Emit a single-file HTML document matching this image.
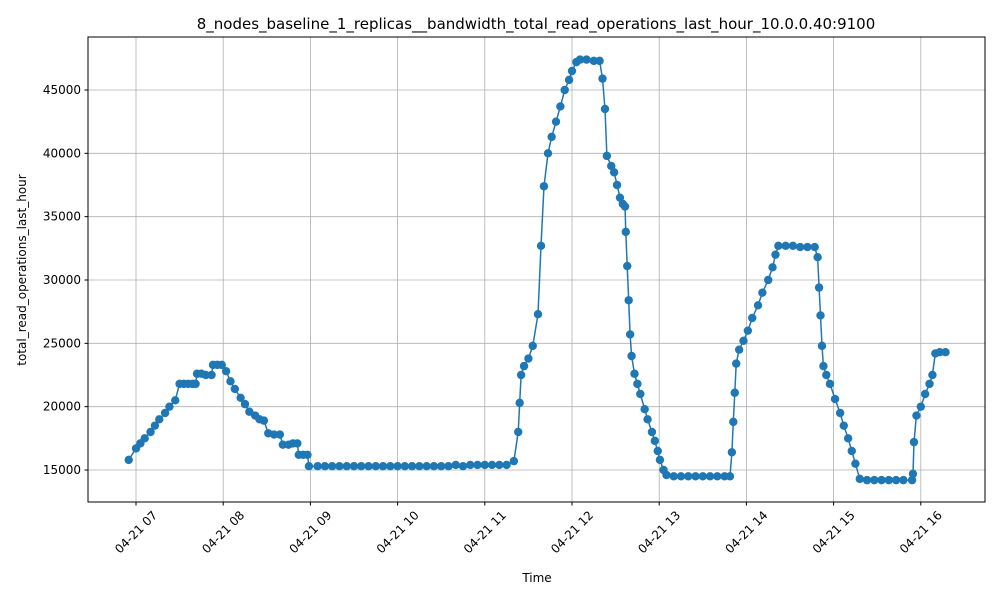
<!DOCTYPE html>
<html><head><meta charset="utf-8"><style>
body{margin:0;background:#fff;}
svg{font-family:"DejaVu Sans","Liberation Sans",sans-serif;}
</style></head><body>
<svg id="chart" width="1000" height="600" xmlns="http://www.w3.org/2000/svg">
<rect x="0" y="0" width="1000" height="600" fill="#fff"/>
<text x="536" y="29" text-anchor="middle" font-size="15" fill="#000">8_nodes_baseline_1_replicas__bandwidth_total_read_operations_last_hour_10.0.0.40:9100</text>
<g id="grid"></g>
<g id="series"></g>
<rect x="88" y="37" width="897" height="465" fill="none" stroke="#000" stroke-width="1"/>
<g id="axes"></g>
<text x="537" y="582" text-anchor="middle" font-size="12">Time</text>
<text transform="translate(26,270) rotate(-90)" text-anchor="middle" font-size="12">total_read_operations_last_hour</text>
</svg>
<script>
// minutes after 07:00
const times = [
-5,0,3,6,10,13,16,20,23,27,
30,33,36,39,41,42,45,48,52,53,
56,59,62,65,68,72,75,78,82,85,
88,91,95,99,101,105,108,111,112,115,
118,119,125,130,135,140,145,150,155,160,
165,170,175,180,185,190,195,200,205,210,
215,220,225,230,235,240,245,250,255,260,
263,264,265,267,270,273,276.6,278.7,280.7,283.5,
286,289,292,295,298,300,303,305.5,310,315,
319,321,322.7,324,327,329,331,333,335,336.5,
337,338,339,340,341,343,345,347,350,352,
355,357,359,360.5,363,365,370,375,380,385,
390,395,400,405,408.7,410,411,412,413,415,
418,421,424,428,431,435,438,440,442,447,
452,457,462,467,469,470,471,472,473,475,
477.5,481,484.5,487,490,492.5,495,498,503,508,
513,518,523,528,534,534.6,535.3,537,540,543,
546,548,550,553,557];
const values = [
15800,16700,17100,17500,18000,18500,19000,19500,20000,20500,
21800,21800,21800,21800,21800,22600,22600,22500,22500,23300,
23300,23300,22800,22000,21400,20700,20200,19600,19300,19000,
18900,17900,17800,17800,17000,17000,17100,17100,16200,16200,
16200,15300,15300,15300,15300,15300,15300,15300,15300,15300,
15300,15300,15300,15300,15300,15300,15300,15300,15300,15300,
15300,15400,15300,15400,15400,15400,15400,15400,15400,15700,
18000,20300,22500,23200,23800,24800,27300,32700,37400,40000,
41300,42500,43700,45000,45800,46500,47200,47400,47400,47300,
47300,45900,43500,39800,39000,38500,37500,36500,36000,35800,
33800,31100,28400,25700,24000,22600,21800,21000,19800,19000,
18000,17300,16500,15800,15000,14600,14500,14500,14500,14500,
14500,14500,14500,14500,14500,16400,18800,21100,23400,24500,
25200,26000,27000,28000,29000,30000,31000,32000,32700,32700,
32700,32600,32600,32600,31800,29400,27200,24800,23200,22500,
21800,20600,19500,18500,17500,16500,15500,14300,14200,14200,
14200,14200,14200,14200,14200,14700,17200,19300,20000,21000,
21800,22500,24200,24300,24300];
const yTicks = [15000,20000,25000,30000,35000,40000,45000];
const xTickHours = [7,8,9,10,11,12,13,14,15,16];

const NS='http://www.w3.org/2000/svg';
function xHour(h){return 136+(h-7)*87.2;}
function xMin(m){return xHour(7+m/60);}
function yVal(v){return 470-(v-15000)*0.0126667;}
function mk(tag,attrs,parent){const e=document.createElementNS(NS,tag);for(const k in attrs)e.setAttribute(k,attrs[k]);parent.appendChild(e);return e;}
const grid=document.getElementById('grid'),axes=document.getElementById('axes'),series=document.getElementById('series');
yTicks.forEach(v=>{const y=yVal(v);
 const g=mk('line',{x1:88,x2:985,y1:y,y2:y,stroke:'#b0b0b0','stroke-width':0.8},grid);
 
 
 mk('line',{x1:84.5,x2:88,y1:y,y2:y,stroke:'#000'},axes);
 const t=mk('text',{x:81,y:y+4,'text-anchor':'end','font-size':12},axes);t.textContent=v;
 
 
});
xTickHours.forEach(h=>{const x=xHour(h);
 const g=mk('line',{x1:x,x2:x,y1:37,y2:502,stroke:'#b0b0b0','stroke-width':0.8},grid);
 
 
 mk('line',{x1:x,x2:x,y1:502,y2:505.5,stroke:'#000'},axes);
 const ax=x+22, ay=516;
 const t=mk('text',{x:ax,y:ay,'text-anchor':'end','font-size':12,transform:`rotate(-45 ${ax} ${ay})`},axes);
 t.textContent='04-21 '+String(h).padStart(2,'0');
 
 
});
const pts=times.map((m,i)=>xMin(m).toFixed(1)+','+yVal(values[i]).toFixed(1)).join(' ');
const line=mk('polyline',{points:pts,fill:'none',stroke:'#1f77b4','stroke-width':1.5},series);


times.forEach((m,i)=>{
 const c=mk('circle',{cx:xMin(m),cy:yVal(values[i]),r:4.2,fill:'#1f77b4'},series);
 
 
});
</script>
</body></html>
